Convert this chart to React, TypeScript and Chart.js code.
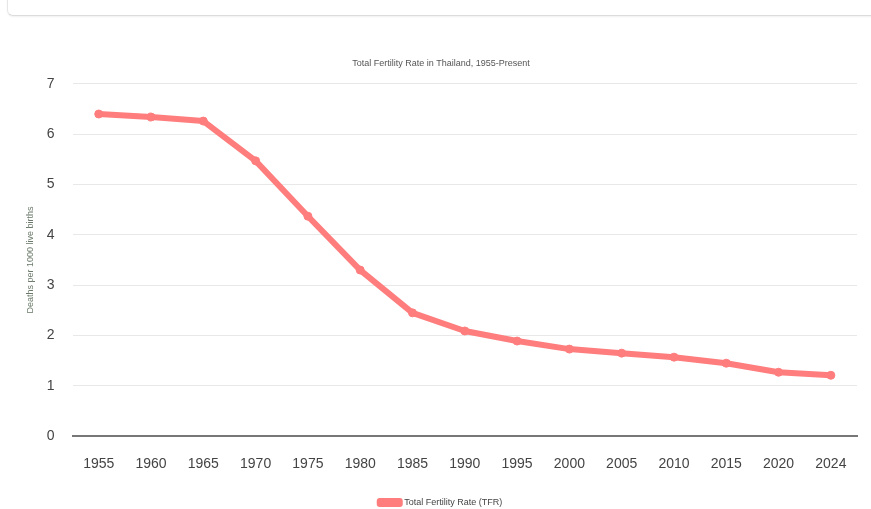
import React, { useEffect, useRef } from "react";
import { Chart, registerables } from "chart.js";

Chart.register(...registerables);

const years = ["1955", "1960", "1965", "1970", "1975", "1980", "1985", "1990", "1995", "2000", "2005", "2010", "2015", "2020", "2024"];
const tfr = [6.4, 6.34, 6.26, 5.47, 4.37, 3.3, 2.45, 2.09, 1.89, 1.73, 1.65, 1.57, 1.45, 1.27, 1.21];

export default function App() {
  const ref = useRef<HTMLCanvasElement>(null);
  useEffect(() => {
    if (!ref.current) return;
    const chart = new Chart(ref.current, {
      type: "line",
      data: {
        labels: years,
        datasets: [
          {
            label: "Total Fertility Rate (TFR)",
            data: tfr,
            borderColor: "rgb(255,125,125)",
            backgroundColor: "rgb(255,125,125)",
            borderWidth: 6,
            pointRadius: 4,
            pointBackgroundColor: "rgb(255,125,125)",
            pointBorderColor: "rgb(255,125,125)",
            pointBorderWidth: 1,
            borderJoinStyle: "round",
            borderCapStyle: "round",
            tension: 0,
          },
        ],
      },
      options: {
        animation: false,
        responsive: false,
        maintainAspectRatio: false,
        layout: { padding: { left: 0, right: 14, top: 0, bottom: 0 } },
        plugins: {
          title: {
            display: true,
            text: "Total Fertility Rate in Thailand, 1955-Present",
            color: "#555",
            font: { family: "Liberation Sans, Arial", size: 9, weight: "normal" },
            padding: { top: 10, bottom: 15 },
          },
          legend: {
            position: "bottom",
            labels: {
              color: "#444",
              font: { family: "Liberation Sans, Arial", size: 9 },
              boxWidth: 20,
              boxHeight: 3,
              padding: 10,
            },
          },
          tooltip: { enabled: false },
        },
        scales: {
          x: {
            offset: true,
            grid: { display: false, drawTicks: false, offset: true },
            border: { color: "#777", width: 2 },
            ticks: { color: "#444", font: { family: "Liberation Sans, Arial", size: 14 }, padding: 20 },
            afterFit: (scale: any) => {
              scale.height -= 5;
            },
          },
          y: {
            min: 0,
            max: 7,
            grid: { color: "#e8e8e8", drawTicks: false },
            border: { display: false },
            ticks: { stepSize: 1, color: "#444", font: { family: "Liberation Sans, Arial", size: 14 }, padding: 18 },
            title: {
              display: true,
              text: "Deaths per 1000 live births",
              color: "#6b7a6b",
              font: { family: "Liberation Sans, Arial", size: 9 },
              padding: { top: 0, bottom: -7 },
            },
          },
        },
      },
    });
    return () => chart.destroy();
  }, []);
  return (
    <div style={{ position: "fixed", left: 0, top: 0, width: 871, height: 509, background: "#fff", overflow: "hidden" }}>
      <div
        style={{
          position: "absolute",
          left: 7,
          top: -20,
          width: 900,
          height: 35,
          borderBottom: "1px solid #dcdcdc",
          borderLeft: "1px solid #e6e6e6",
          borderBottomLeftRadius: 6,
          boxShadow: "0 1px 2px rgba(0,0,0,0.06)",
        }}
      />
      <canvas ref={ref} width={846} height={469} style={{ position: "absolute", left: 25, top: 48 }} />
    </div>
  );
}
